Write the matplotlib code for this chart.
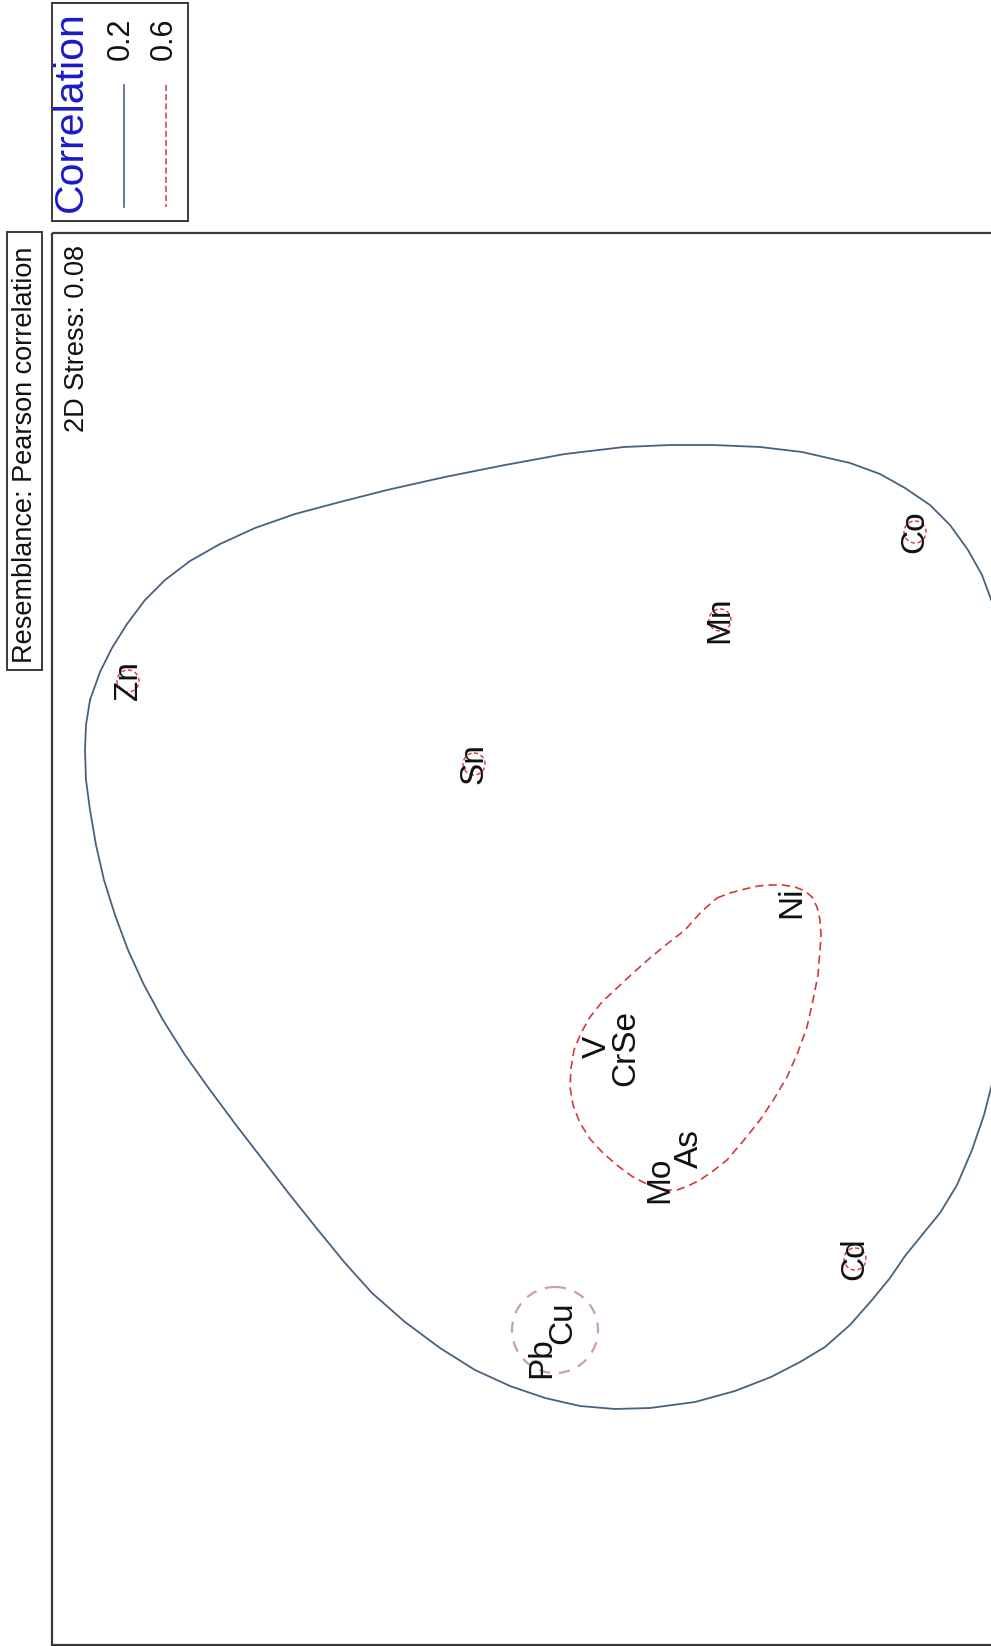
import matplotlib
matplotlib.use("Agg")
import matplotlib.pyplot as plt
from matplotlib.patches import Rectangle, Circle

plt.rcParams["font.family"] = ["Liberation Sans", "DejaVu Sans"]

# page size in pixels (the chart is stored rotated by 90 degrees)
W, H = 991, 1646

# element labels and their positions on the rotated page
elements = ["Zn", "Sn", "Mn", "Co", "Ni", "V", "CrSe", "Mo", "As", "Cd", "Pb", "Cu"]
elem_x = [128, 474, 720, 915, 792, 597, 626, 660, 689, 855, 542, 563]
elem_y = [681, 764, 620, 532, 902, 1047, 1048, 1180, 1149, 1259, 1358, 1323]

# elements standing alone at the 0.6 level
singles = ["Zn", "Sn", "Mn", "Co", "Cd"]

# 0.2 correlation contour (traced)
c02_x = [90, 100, 112, 127, 145, 165, 190, 220, 255, 295, 340, 387, 445, 505,
         565, 624, 670, 713, 760, 802, 850, 880, 905, 930, 950, 968, 982, 995,
         1005, 1012, 1014, 1008, 993, 984, 972, 957, 940, 922, 905, 890, 872,
         850, 825, 800, 771, 735, 695, 650, 615, 580, 545, 510, 475, 440, 405,
         372, 345, 318, 290, 263, 236, 210, 185, 163, 144, 128, 115, 104, 96,
         90, 86, 85, 86]
c02_y = [700, 672, 648, 624, 600, 580, 561, 544, 528, 514, 502, 490, 477, 465,
         454, 447, 445, 445, 447, 452, 463, 474, 488, 505, 525, 550, 575, 610,
         660, 760, 880, 1000, 1080, 1115, 1150, 1185, 1213, 1235, 1256, 1278,
         1300, 1325, 1347, 1362, 1377, 1391, 1402, 1408, 1409, 1406, 1398, 1386,
         1370, 1348, 1322, 1293, 1263, 1230, 1195, 1160, 1125, 1090, 1055, 1020,
         985, 950, 915, 880, 845, 810, 780, 750, 725]

# 0.6 correlation contour around Ni / V / Cr / Se / Mo / As (traced)
c06_x = [717, 730, 745, 758, 770, 783, 795, 805, 812, 817, 820, 821, 820, 818,
         813, 807, 798, 787, 774, 760, 744, 727, 713, 700, 688, 677, 667, 657,
         645, 633, 618, 603, 590, 580, 573, 570, 571, 574, 581, 590, 602, 617,
         633, 650, 667, 685, 701]
c06_y = [898, 893, 889, 886, 885, 885, 887, 891, 897, 907, 920, 935, 950, 975,
         1000, 1027, 1052, 1077, 1099, 1120, 1140, 1160, 1171, 1180, 1186, 1190,
         1190, 1188, 1183, 1177, 1166, 1153, 1139, 1123, 1105, 1087, 1068, 1050,
         1033, 1017, 1002, 988, 973, 958, 944, 930, 912]

# 0.6 contour around Pb / Cu
pbcu_center = (555, 1330)
pbcu_radius = 43

legend_levels = ["0.2", "0.6"]
stress_text = "2D Stress: 0.08"
resemblance_text = "Resemblance: Pearson correlation"

BLUE = "#47627e"
RED = "#d23a3a"

fig = plt.figure(figsize=(W / 100, H / 100), dpi=100)
ax = fig.add_axes([0, 0, 1, 1])
ax.set_xlim(0, W)
ax.set_ylim(H, 0)
ax.axis("off")

# frames
ax.add_patch(Rectangle((52, 233), 960, 1412, fill=False, ec="#3a3a3a", lw=1.6))
ax.add_patch(Rectangle((52, 3), 136, 218, fill=False, ec="#3a3a3a", lw=1.4))
ax.add_patch(Rectangle((7, 232), 35, 438, fill=False, ec="#3a3a3a", lw=1.4))

ax.text(25, 455, resemblance_text, rotation=90, ha="center", va="center",
        fontsize=19.5, color="#111111")
ax.text(77, 338, stress_text, rotation=90, ha="center", va="center",
        fontsize=19.5, color="#111111")

# legend
ax.text(71, 112, "Correlation", rotation=90, ha="center", va="center",
        fontsize=29.5, color="#1a1ac8")
ax.text(121, 39, legend_levels[0], rotation=90, ha="center", va="center",
        fontsize=22, color="#111111")
ax.text(164, 39, legend_levels[1], rotation=90, ha="center", va="center",
        fontsize=22, color="#111111")
ax.plot([124, 124], [85, 207], color=BLUE, lw=1.2)
ax.plot([166, 166], [85, 207], color=RED, lw=1.1, ls=(0, (4, 2)))

# contours
ax.plot(c02_x + c02_x[:1], c02_y + c02_y[:1], color=BLUE, lw=1.3,
        solid_joinstyle="round")
ax.plot(c06_x + c06_x[:1], c06_y + c06_y[:1], color=RED, lw=1.2, ls=(0, (5, 3)))
ax.add_patch(Circle(pbcu_center, pbcu_radius, fill=False, ec="#c9a0a6",
                    lw=1.6, ls=(0, (5, 4))))
for name in singles:
    i = elements.index(name)
    ax.add_patch(Circle((elem_x[i], elem_y[i]), 11, fill=False, ec=RED,
                        lw=1.0, ls=(0, (3, 2))))

for name, x, y in zip(elements, elem_x, elem_y):
    ax.text(x, y, name, rotation=90, ha="center", va="center",
            fontsize=24, color="#111111")

fig.savefig("out.png", dpi=100)
